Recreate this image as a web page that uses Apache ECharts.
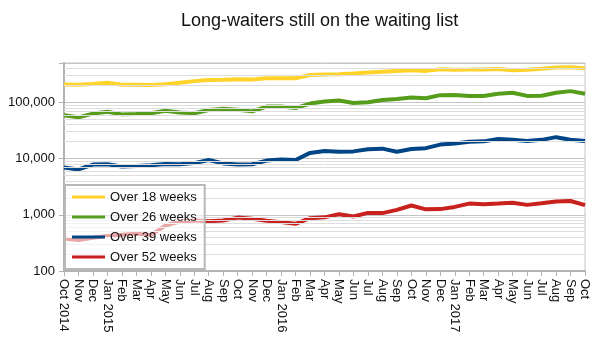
<!DOCTYPE html>
<html>
<head>
<meta charset="utf-8">
<script src="https://cdn.jsdelivr.net/npm/echarts@6/dist/echarts.min.js"></script>
<style>
  html, body { margin: 0; padding: 0; background: #fff; }
  #chart { width: 596px; height: 344px; }
</style>
</head>
<body>
<div id="chart"></div>
<script>
// Monthly snapshots, Oct 2014 to Oct 2017
const months = ['Oct 2014','Nov','Dec','Jan 2015','Feb','Mar','Apr','May','Jun','Jul','Aug','Sep',
  'Oct','Nov','Dec','Jan 2016','Feb','Mar','Apr','May','Jun','Jul','Aug','Sep',
  'Oct','Nov','Dec','Jan 2017','Feb','Mar','Apr','May','Jun','Jul','Aug','Sep','Oct'];

// Patients waiting longer than each threshold
const over18 = [208000,205000,212000,222000,205000,205000,203000,210000,222000,238000,250000,252000,
  258000,255000,268000,268000,268000,305000,312000,315000,325000,338000,350000,362000,
  370000,362000,388000,380000,382000,385000,392000,372000,378000,395000,415000,420000,405000];
const over26 = [59000,54000,63000,68000,61000,62000,64000,71000,66000,64000,73000,77000,
  74000,69000,84000,84000,79000,95000,103000,108000,97000,100000,110000,114000,
  122000,118000,134000,135000,130000,130000,142000,148000,130000,131000,148000,158000,142000];
const over39 = [6900,6400,7800,7900,7200,7400,7600,8000,7900,8300,9400,8200,
  7800,7900,9200,9600,9400,12600,13600,13200,13400,14600,15000,13200,
  14800,15300,17700,18500,19800,20200,22300,21500,20600,21500,24000,21600,20500];
const over52 = [378,355,390,420,440,462,435,640,760,790,770,790,
  890,850,780,740,690,870,900,1020,930,1080,1070,1220,
  1460,1250,1260,1380,1580,1540,1580,1640,1500,1600,1720,1760,1480];

// Log axis range and the intermediate (2..9 x 10^n) gridline values
const yMin = 100;
const yMax = 500000;
const minorGrid = [200,300,400,500,600,700,800,900,
  2000,3000,4000,5000,6000,7000,8000,9000,
  20000,30000,40000,50000,60000,70000,80000,90000,
  200000,300000,400000];

const FONT = '"Liberation Sans", Arial, Helvetica, sans-serif';
const colors = ['#ffd32a', '#579d1c', '#004586', '#c9211e'];
const names = ['Over 18 weeks', 'Over 26 weeks', 'Over 39 weeks', 'Over 52 weeks'];
const values = [over18, over26, over39, over52];

const chart = echarts.init(document.getElementById('chart'), null, { renderer: 'canvas' });

const series = values.map((d, i) => ({
  name: names[i],
  type: 'line',
  data: d,
  symbol: 'none',
  z: 3,
  lineStyle: { color: colors[i], width: 4 },
  itemStyle: { color: colors[i] },
  emphasis: { disabled: true }
}));

// Light intermediate gridlines, placed through the log scale
series.unshift({
  name: 'minor',
  type: 'line',
  data: [],
  z: 1,
  silent: true,
  markLine: {
    silent: true,
    symbol: 'none',
    label: { show: false },
    lineStyle: { color: '#dedede', width: 1, type: 'solid' },
    emphasis: { disabled: true },
    animation: false,
    data: minorGrid.map(v => ({ yAxis: v }))
  }
});

chart.setOption({
  animation: false,
  backgroundColor: '#fff',
  title: {
    text: 'Long-waiters still on the waiting list',
    left: 176,
    top: 7,
    textStyle: { fontFamily: FONT, fontSize: 18, fontWeight: 'normal', color: '#111' }
  },
  grid: {
    left: 64, right: 11, top: 63, bottom: 73,
    show: true, borderColor: '#c4c4c4', borderWidth: 1
  },
  legend: {
    data: names,
    orient: 'vertical',
    left: 65,
    top: 185,
    padding: [5, 8, 5, 7],
    icon: 'rect',
    itemWidth: 33,
    itemHeight: 3,
    itemGap: 6,
    backgroundColor: 'rgba(255,255,255,0.6)',
    borderColor: '#b8b8b8',
    borderWidth: 2,
    borderRadius: 0,
    textStyle: { fontFamily: FONT, fontSize: 13, lineHeight: 14, color: '#111' },
    z: 10
  },
  xAxis: {
    type: 'category',
    data: months,
    boundaryGap: false,
    axisLine: { lineStyle: { color: '#b3b3b3', width: 2 } },
    axisTick: { show: true, length: 5, interval: 0, lineStyle: { color: '#b3b3b3', width: 1 } },
    axisLabel: {
      interval: 0, rotate: -90, margin: 8,
      fontFamily: FONT, fontSize: 13, color: '#111'
    },
    splitLine: { show: false }
  },
  yAxis: {
    type: 'log',
    logBase: 10,
    min: yMin,
    max: yMax,
    axisLine: { show: true, lineStyle: { color: '#b3b3b3', width: 2 } },
    axisTick: { show: true, length: 5, lineStyle: { color: '#b3b3b3' } },
    axisLabel: {
      margin: 9,
      fontFamily: FONT, fontSize: 13, color: '#111',
      formatter: v => {
        const e = Math.log10(v);
        if (Math.abs(e - Math.round(e)) > 1e-6) return '';
        return Math.round(v).toLocaleString('en-GB');
      }
    },
    splitLine: { show: true, lineStyle: { color: '#c4c4c4', width: 1 } }
  },
  series: series
});
</script>
</body>
</html>
